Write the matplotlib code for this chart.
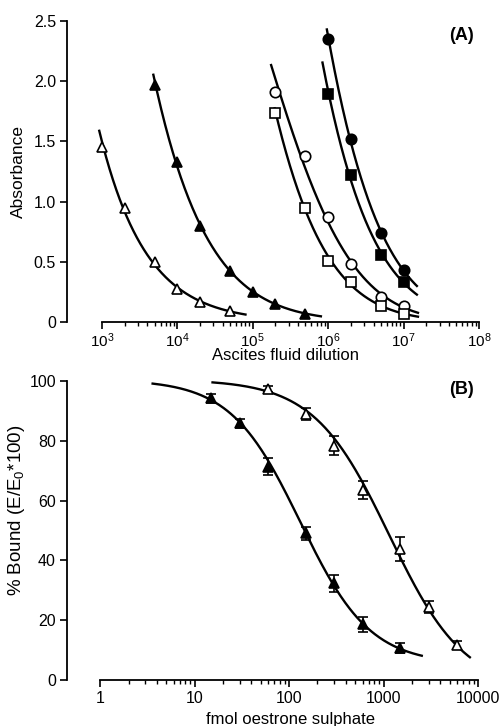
import matplotlib

matplotlib.use("Agg")
import matplotlib.pyplot as plt
from matplotlib.ticker import FixedLocator, NullFormatter
import numpy as np

plt.rcParams["font.family"] = ["Liberation Sans", "DejaVu Sans"]
plt.rcParams["mathtext.fontset"] = "custom"
plt.rcParams["mathtext.rm"] = "Liberation Sans"
plt.rcParams["mathtext.it"] = "Liberation Sans:italic"

# ---- panel A: absorbance vs ascites fluid dilution ----
open_tri_x = [1e3, 2e3, 5e3, 1e4, 2e4, 5e4]
open_tri_y = [1.45, 0.95, 0.50, 0.27, 0.17, 0.09]
fill_tri_x = [5e3, 1e4, 2e4, 5e4, 1e5, 2e5, 5e5]
fill_tri_y = [1.97, 1.33, 0.80, 0.42, 0.25, 0.15, 0.07]
open_circ_x = [2e5, 5e5, 1e6, 2e6, 5e6, 1e7]
open_circ_y = [1.91, 1.38, 0.87, 0.48, 0.21, 0.13]
open_sq_x = [2e5, 5e5, 1e6, 2e6, 5e6, 1e7]
open_sq_y = [1.74, 0.95, 0.51, 0.33, 0.13, 0.07]
fill_circ_x = [1e6, 2e6, 5e6, 1e7]
fill_circ_y = [2.35, 1.52, 0.74, 0.43]
fill_sq_x = [1e6, 2e6, 5e6, 1e7]
fill_sq_y = [1.89, 1.22, 0.56, 0.33]
# extent of each fitted curve (x from, x to)
fit_range_a = {
    "open_tri": (9.2e2, 8.0e4),
    "fill_tri": (4.8e3, 8.0e5),
    "open_circ": (1.75e5, 1.55e7),
    "open_sq": (1.95e5, 1.55e7),
    "fill_circ": (9.6e5, 1.5e7),
    "fill_sq": (8.4e5, 1.5e7),
}
a_yticks = [0, 0.5, 1.0, 1.5, 2.0, 2.5]
a_yticklabels = ["0", "0.5", "1.0", "1.5", "2.0", "2.5"]

# ---- panel B: % bound vs fmol oestrone sulphate ----
b_fill_x = [15, 30, 60, 150, 300, 600, 1500]
b_fill_y = [94.2, 85.8, 71.3, 49.1, 32.3, 18.6, 10.6]
b_fill_err = [1.5, 1.5, 2.8, 2.2, 2.8, 2.4, 1.7]
b_open_x = [60, 150, 300, 600, 1500, 3000, 6000]
b_open_y = [97.2, 89.0, 78.3, 63.5, 43.8, 24.5, 11.7]
b_open_err = [1.0, 2.0, 3.2, 3.0, 3.9, 2.0, 1.2]
fit_range_b = {"fill": (3.6, 2540), "open": (15.5, 8200)}
b_xticks = [1, 10, 100, 1000, 10000]
b_yticks = [0, 20, 40, 60, 80, 100]


def power_fit(x, y, lo, hi):
    coefs = np.polyfit(np.log10(x), np.log(y), 2)
    xs = np.logspace(np.log10(lo), np.log10(hi), 300)
    return xs, np.exp(np.polyval(coefs, np.log10(xs)))


def logistic_fit(x, y, lo, hi):
    # four-parameter logistic, fitted by a small grid over top/bottom
    x = np.asarray(x, float)
    y = np.asarray(y, float)
    lx = np.log(x)
    best = None
    for top in np.linspace(100.0, 100.5, 6):
        for b in np.linspace(-5, min(y) - 0.5, 120):
            z = np.log((y - b) / (top - y))
            k, c = np.polyfit(lx, z, 1)
            pred = b + (top - b) / (1 + np.exp(-(k * lx + c)))
            sse = np.sum((pred - y) ** 2)
            if best is None or sse < best[0]:
                best = (sse, top, b, k, c)
    _, top, b, k, c = best
    xs = np.logspace(np.log10(lo), np.log10(hi), 300)
    return xs, b + (top - b) / (1 + np.exp(-(k * np.log(xs) + c)))


def style_axis(ax):
    for side in ("top", "right"):
        ax.spines[side].set_visible(False)
    for side in ("left", "bottom"):
        ax.spines[side].set_linewidth(1.3)
    ax.tick_params(which="major", direction="out", length=5, width=1.2,
                   labelsize=11.5, pad=3)
    ax.tick_params(which="minor", direction="out", length=2.8, width=1.0)
    ax.tick_params(axis="y", which="minor", left=False)


fig = plt.figure(figsize=(5.02, 7.26), dpi=100)

# ---------------- panel A ----------------
ax = fig.add_axes([67 / 502, 1 - 322 / 726, 412 / 502, 301 / 726])
ax.set_xscale("log")
series_a = [
    ("open_tri", open_tri_x, open_tri_y, "^", "white", 7.5),
    ("fill_tri", fill_tri_x, fill_tri_y, "^", "black", 7.5),
    ("open_circ", open_circ_x, open_circ_y, "o", "white", 7.5),
    ("open_sq", open_sq_x, open_sq_y, "s", "white", 6.8),
    ("fill_circ", fill_circ_x, fill_circ_y, "o", "black", 7.5),
    ("fill_sq", fill_sq_x, fill_sq_y, "s", "black", 6.8),
]
for key, x, y, mk, fc, ms in series_a:
    lo, hi = fit_range_a[key]
    xs, ys = power_fit(x, y, lo, hi)
    ax.plot(xs, ys, color="black", lw=1.7, clip_on=False, zorder=2)
    ax.plot(x, y, ls="none", marker=mk, ms=ms, mfc=fc, mec="black", mew=1.2,
            clip_on=False, zorder=3)

ax.set_xlim(10 ** 2.536, 1e8)
ax.set_ylim(0, 2.5)
style_axis(ax)
ax.tick_params(axis="x", which="major", pad=1.5, labelsize=11)
ax.spines["left"].set_bounds(0, 2.5)
ax.spines["bottom"].set_bounds(1e3, 1e8)
ax.xaxis.set_major_locator(FixedLocator([10.0 ** e for e in range(3, 9)]))
ax.xaxis.set_minor_locator(
    FixedLocator([m * 10.0 ** e for e in range(3, 8) for m in range(2, 10)]))
ax.xaxis.set_minor_formatter(NullFormatter())
ax.set_yticks(a_yticks)
ax.set_yticklabels(a_yticklabels)
ax.set_ylabel("Absorbance", fontsize=12.5)
ax.yaxis.set_label_coords(-0.10, 0.5)
ax.set_xlabel("Ascites fluid dilution", fontsize=12, va="top")
ax.xaxis.set_label_coords(0.530, -0.088)
fig.text(462 / 502, 1 - 35 / 726, "(A)", fontsize=13, fontweight="bold",
         ha="center", va="center")

# ---------------- panel B ----------------
bx = fig.add_axes([67 / 502, 1 - 680 / 726, 411 / 502, 299 / 726])
bx.set_xscale("log")
for key, x, y, err, fc in [
    ("fill", b_fill_x, b_fill_y, b_fill_err, "black"),
    ("open", b_open_x, b_open_y, b_open_err, "white"),
]:
    lo, hi = fit_range_b[key]
    xs, ys = logistic_fit(x, y, lo, hi)
    bx.plot(xs, ys, color="black", lw=1.7, clip_on=False, zorder=2)
    bx.errorbar(x, y, yerr=err, fmt="^", ms=7.5, mfc=fc, mec="black", mew=1.2,
                ecolor="black", elinewidth=1.2, capsize=3.5, capthick=1.2,
                clip_on=False, zorder=3)

bx.set_xlim(10 ** -0.35, 1e4)
bx.set_ylim(0, 100)
style_axis(bx)
bx.spines["left"].set_bounds(0, 100)
bx.spines["bottom"].set_bounds(1, 1e4)
bx.xaxis.set_major_locator(FixedLocator(b_xticks))
bx.xaxis.set_minor_locator(
    FixedLocator([m * 10.0 ** e for e in range(0, 4) for m in range(2, 10)]))
bx.xaxis.set_minor_formatter(NullFormatter())
bx.set_xticklabels([str(v) for v in b_xticks])
bx.set_yticks(b_yticks)
bx.set_yticklabels([str(v) for v in b_yticks])
bx.set_ylabel("% Bound (E/E$_0$*100)", fontsize=13.5)
bx.yaxis.set_label_coords(-0.097, 0.569)
bx.set_xlabel("fmol oestrone sulphate", fontsize=12, va="top")
bx.xaxis.set_label_coords(0.543, -0.108)
fig.text(462 / 502, 1 - 390 / 726, "(B)", fontsize=13, fontweight="bold",
         ha="center", va="center")

fig.savefig("out.png", dpi=100)
plt.close(fig)
